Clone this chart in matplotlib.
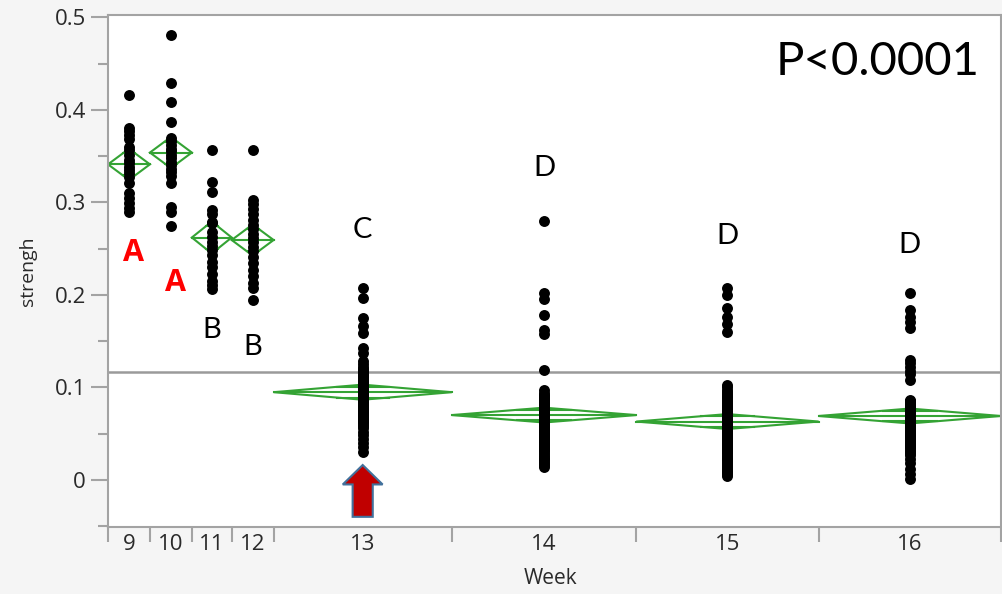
import numpy as np
import matplotlib.pyplot as plt
from matplotlib.patches import Polygon, FancyArrow

# datos por semana (strengh)
weeks = ['9', '10', '11', '12', '13', '14', '15', '16']

w9 = [0.416, 0.380, 0.377, 0.373, 0.368, 0.360, 0.357, 0.351, 0.346, 0.343,
      0.338, 0.335, 0.332, 0.327, 0.321, 0.310, 0.305, 0.299, 0.294, 0.289]
w10 = [0.481, 0.429, 0.408, 0.387, 0.370, 0.366, 0.362, 0.358, 0.355, 0.351,
       0.348, 0.344, 0.340, 0.336, 0.333, 0.328, 0.321, 0.295, 0.290, 0.274]
w11 = [0.357, 0.322, 0.311, 0.292, 0.287, 0.278, 0.279, 0.268, 0.262, 0.257,
       0.253, 0.248, 0.243, 0.236, 0.230, 0.222, 0.215, 0.211, 0.206]
w12 = [0.357, 0.303, 0.298, 0.293, 0.287, 0.281, 0.276, 0.271, 0.266, 0.261,
       0.257, 0.252, 0.247, 0.241, 0.234, 0.227, 0.220, 0.213, 0.207, 0.194]
w13 = [0.207, 0.197, 0.175, 0.166, 0.159, 0.143, 0.137,
       0.128, 0.125, 0.122, 0.120, 0.118, 0.116, 0.114, 0.112, 0.110, 0.109,
       0.108, 0.106, 0.105, 0.104, 0.103, 0.102, 0.101, 0.100, 0.099, 0.098,
       0.097, 0.096, 0.096, 0.095, 0.094, 0.094, 0.093, 0.092, 0.092, 0.091,
       0.090, 0.090, 0.089, 0.088, 0.088, 0.087, 0.086, 0.085, 0.084, 0.083,
       0.082, 0.081, 0.080, 0.079, 0.078, 0.077, 0.076, 0.075, 0.074, 0.073,
       0.072, 0.071, 0.070, 0.069, 0.067, 0.066, 0.064, 0.062, 0.060, 0.058,
       0.056, 0.052, 0.048, 0.044, 0.040, 0.035, 0.030,
       0.100, 0.095, 0.090, 0.085,
       0.119, 0.115, 0.111, 0.107, 0.103, 0.099, 0.095]
w14 = [0.280, 0.202, 0.195, 0.178, 0.162, 0.158, 0.119,
       0.097, 0.094, 0.092, 0.090, 0.088, 0.086, 0.085, 0.084, 0.083, 0.082,
       0.081, 0.080, 0.079, 0.078, 0.077, 0.076, 0.075, 0.074, 0.073, 0.072,
       0.071, 0.070, 0.070, 0.069, 0.068, 0.067, 0.066, 0.065, 0.064, 0.063,
       0.062, 0.061, 0.060, 0.059, 0.058, 0.057, 0.056, 0.055, 0.054, 0.053,
       0.052, 0.051, 0.050, 0.049, 0.048, 0.047, 0.046, 0.045, 0.044, 0.043,
       0.042, 0.041, 0.040, 0.039, 0.038, 0.037, 0.036, 0.035, 0.034, 0.033,
       0.032, 0.030, 0.028, 0.026, 0.024, 0.022, 0.020, 0.018, 0.016, 0.014,
       0.090, 0.087, 0.085, 0.083, 0.081, 0.080, 0.079, 0.078, 0.077, 0.076, 0.075]
w15 = [0.207, 0.200, 0.186, 0.176, 0.168, 0.160,
       0.103, 0.100, 0.097, 0.095, 0.093, 0.091, 0.089, 0.087, 0.085, 0.083,
       0.081, 0.080, 0.078, 0.077, 0.075, 0.074, 0.073, 0.072, 0.071, 0.070,
       0.069, 0.068, 0.067, 0.066, 0.065, 0.064, 0.063, 0.062, 0.061, 0.060,
       0.059, 0.058, 0.057, 0.056, 0.055, 0.054, 0.053, 0.052, 0.051, 0.050,
       0.049, 0.048, 0.047, 0.046, 0.045, 0.044, 0.043, 0.042, 0.041, 0.040,
       0.039, 0.038, 0.037, 0.036, 0.035, 0.034, 0.033, 0.032, 0.031, 0.030,
       0.028, 0.026, 0.024, 0.022, 0.020, 0.018, 0.016, 0.014, 0.012, 0.010,
       0.008, 0.006, 0.004,
       0.072, 0.069, 0.067, 0.065, 0.064, 0.063, 0.062, 0.060]
w16 = [0.202, 0.184, 0.176, 0.171, 0.164,
       0.130, 0.126, 0.122, 0.118, 0.114, 0.108,
       0.086, 0.085, 0.084, 0.083, 0.082, 0.081, 0.080, 0.079, 0.078, 0.077,
       0.076, 0.075, 0.074, 0.073, 0.072, 0.071, 0.070, 0.069, 0.068, 0.067,
       0.066, 0.065, 0.064, 0.063, 0.062, 0.061, 0.060, 0.059, 0.058, 0.057,
       0.056, 0.055, 0.054, 0.053, 0.052, 0.051, 0.050, 0.049, 0.048, 0.047,
       0.046, 0.045, 0.044, 0.043, 0.042, 0.041, 0.040, 0.039, 0.038, 0.037,
       0.035, 0.033, 0.031, 0.029, 0.027, 0.022, 0.018, 0.012, 0.006, 0.001,
       0.085, 0.083, 0.080, 0.078, 0.075, 0.073, 0.071, 0.069, 0.067, 0.065,
       0.063, 0.061, 0.059, 0.057, 0.055, 0.058]

# letras de agrupamiento (Tukey) y su altura
letters = ['A', 'A', 'B', 'B', 'C', 'D', 'D', 'D']
letter_y = [0.245, 0.213, 0.162, 0.144, 0.270, 0.337, 0.264, 0.254]
letter_red = [True, True, False, False, False, False, False, False]

groups = [w9, w10, w11, w12, w13, w14, w15, w16]
counts = np.array([len(g) for g in groups])
edges = np.concatenate([[0], np.cumsum(counts)])
centers = (edges[:-1] + edges[1:]) / 2

means = np.array([np.mean(g) for g in groups])
allv = np.concatenate(groups)
grand = allv.mean()
sse = sum(((np.array(g) - np.mean(g)) ** 2).sum() for g in groups)
s_pool = np.sqrt(sse / (len(allv) - len(groups)))
t95 = 1.966
ci = t95 * s_pool / np.sqrt(counts)

green = '#34a334'
gray = '#a3a3a3'

fig = plt.figure(figsize=(10.02, 5.94), dpi=100, facecolor='#f5f5f5')
ax = fig.add_axes([108 / 1002, 1 - 527 / 594, 893 / 1002, 512 / 594])
ax.set_facecolor('white')

ax.axhline(grand, color='#9a9a9a', lw=1.8, zorder=1)

for i, g in enumerate(groups):
    x0, x1, c = edges[i], edges[i + 1], centers[i]
    m, h = means[i], ci[i]
    ax.add_patch(Polygon([(x0, m), (c, m + h), (x1, m), (c, m - h)],
                         closed=True, fill=False, edgecolor=green, lw=1.5, zorder=2))
    ax.plot([x0, x1], [m, m], color=green, lw=1.5, zorder=2)
    o = h / np.sqrt(2)
    hw = (x1 - x0) / 2 * (1 - 1 / np.sqrt(2))
    for s in (1, -1):
        ax.plot([c - hw, c + hw], [m + s * o, m + s * o], color=green, lw=1.5, zorder=2)
    ax.scatter(np.full(len(g), c), g, s=62, color='black', zorder=3, linewidths=0)

for i, L in enumerate(letters):
    if letter_red[i]:
        ax.text(centers[i] + 2, letter_y[i], L, color='#ff0000', fontsize=22,
                fontweight='bold', ha='center', va='center', family='Open Sans')
    else:
        ax.text(centers[i], letter_y[i], L, color='black', fontsize=21,
                ha='center', va='center', family='Lato')

ax.text(0.862, 0.908, 'P<0.0001', transform=ax.transAxes, fontsize=34,
        ha='center', va='center', family='Lato')

# flecha roja en la semana 13
ax.add_patch(FancyArrow(centers[4], -0.040, 0, 0.056, width=9.6, head_width=19,
                        head_length=0.021, length_includes_head=True,
                        facecolor='#c00000', edgecolor='#41719c', lw=1.5, zorder=4))

ax.set_xlim(0, edges[-1])
ax.set_ylim(-0.051, 0.5025)

ax.set_xticks(edges)
ax.set_xticklabels([])
ax.set_xticks(centers, minor=True)
ax.set_xticklabels(weeks, minor=True, fontsize=16, color='#2a2a2a', family='Open Sans')
ax.tick_params(axis='x', which='major', length=11, width=1.5, color=gray)
ax.tick_params(axis='x', which='minor', length=0, pad=5)

ax.set_yticks([0, 0.1, 0.2, 0.3, 0.4, 0.5])
ax.set_yticklabels(['0', '0.1', '0.2', '0.3', '0.4', '0.5'], fontsize=16,
                   color='#2a2a2a', family='Open Sans')
ax.set_yticks([-0.05, 0.05, 0.15, 0.25, 0.35, 0.45], minor=True)
ax.tick_params(axis='y', which='major', length=12, width=1.5, color=gray, pad=4)
ax.tick_params(axis='y', which='minor', length=7, width=1.5, color=gray)

for sp in ax.spines.values():
    sp.set_color(gray)
    sp.set_linewidth(1.5)

fig.text(28 / 1002, 1 - 271 / 594, 'strengh', rotation=90, ha='center', va='center',
         fontsize=14, color='#2a2a2a', family='Open Sans')
fig.text(551 / 1002, 1 - 579 / 594, 'Week', ha='center', va='center',
         fontsize=15, color='#2a2a2a', family='Open Sans')

fig.savefig('out.png', dpi=100, facecolor=fig.get_facecolor())
